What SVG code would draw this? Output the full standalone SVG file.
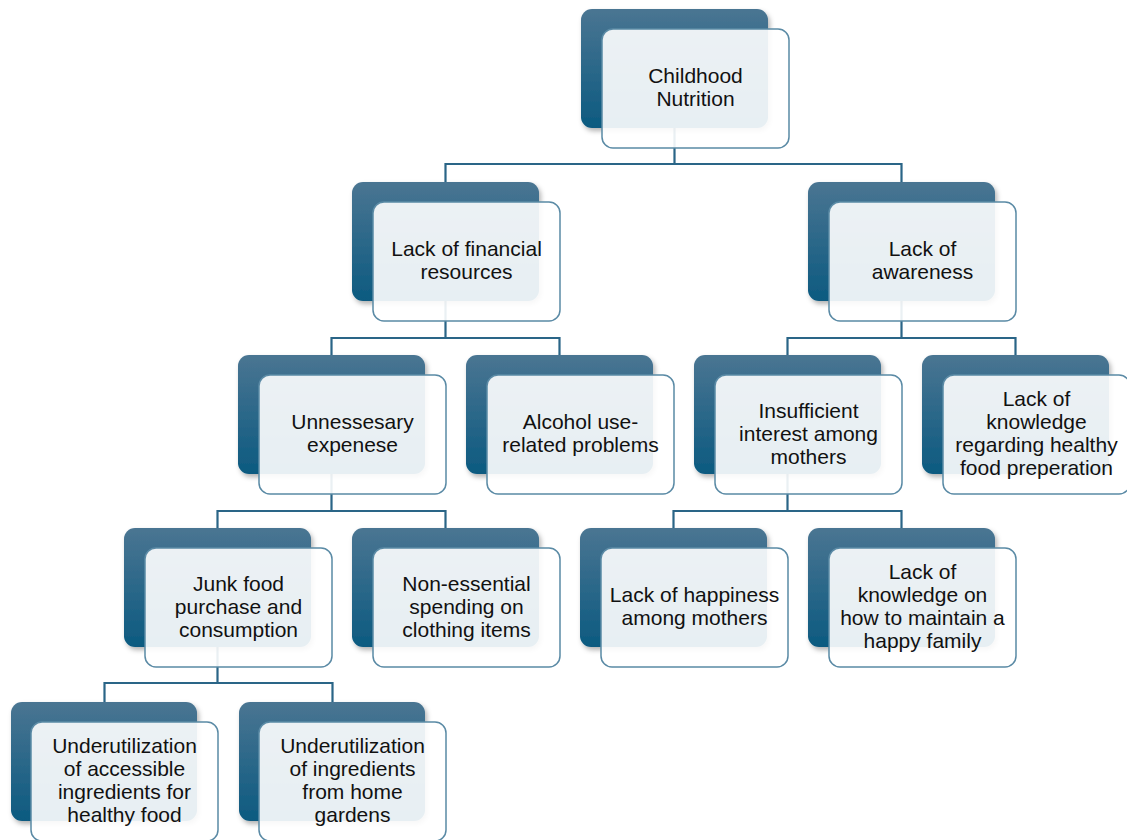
<svg xmlns="http://www.w3.org/2000/svg" width="1127" height="840" viewBox="0 0 1127 840">
<defs>
<linearGradient id="dg" x1="0" y1="0" x2="0" y2="1">
<stop offset="0" stop-color="#4a7592"/>
<stop offset="1" stop-color="#0c5a80"/>
</linearGradient>
<filter id="sh" x="-10%" y="-10%" width="125%" height="130%">
<feDropShadow dx="2" dy="3" stdDeviation="2.5" flood-color="#000" flood-opacity="0.3"/>
</filter>
<style>
.dk{fill:url(#dg);filter:url(#sh)}
.lt{fill:#fff;fill-opacity:0.9;stroke:#5a8aa5;stroke-width:1.5}
.tx{font-family:"Liberation Sans",Arial,sans-serif;font-size:21px;fill:#111;text-anchor:middle}
.cn{fill:none;stroke:#2a6587;stroke-width:2.2}
</style>
</defs>
<rect width="1127" height="840" fill="#fff"/>
<g id="connectors">
<path class="cn" d="M674.5,128V164M445.5,182V164H901.5V182"/>
<path class="cn" d="M445.5,301V338M331.5,355V338H559.5V355"/>
<path class="cn" d="M901.5,301V338M787.5,355V338H1015.5V355"/>
<path class="cn" d="M331.5,474V511M217.5,528V511H445.5V528"/>
<path class="cn" d="M787.5,474V511M673.5,528V511H901.5V528"/>
<path class="cn" d="M217.5,647V683M104.5,702V683H332.5V702"/>
</g>
<g id="n0">
<rect class="dk" x="581" y="9" width="187" height="119" rx="11"/>
<rect class="lt" x="602" y="29" width="187" height="119" rx="11"/>
<text class="tx" x="695.5"><tspan y="82.5" x="695.5">Childhood</tspan><tspan y="105.5" x="695.5">Nutrition</tspan></text>
</g>
<g id="n1">
<rect class="dk" x="352" y="182" width="187" height="119" rx="11"/>
<rect class="lt" x="373" y="202" width="187" height="119" rx="11"/>
<text class="tx"><tspan y="255.5" x="466.5">Lack of financial</tspan><tspan y="278.5" x="466.5">resources</tspan></text>
</g>
<g id="n2">
<rect class="dk" x="808" y="182" width="187" height="119" rx="11"/>
<rect class="lt" x="829" y="202" width="187" height="119" rx="11"/>
<text class="tx"><tspan y="255.5" x="922.5">Lack of</tspan><tspan y="278.5" x="922.5">awareness</tspan></text>
</g>
<g id="n3">
<rect class="dk" x="238" y="355" width="187" height="119" rx="11"/>
<rect class="lt" x="259" y="375" width="187" height="119" rx="11"/>
<text class="tx"><tspan y="428.5" x="352.5">Unnessesary</tspan><tspan y="451.5" x="352.5">expenese</tspan></text>
</g>
<g id="n4">
<rect class="dk" x="466" y="355" width="187" height="119" rx="11"/>
<rect class="lt" x="487" y="375" width="187" height="119" rx="11"/>
<text class="tx"><tspan y="428.5" x="580.5">Alcohol use-</tspan><tspan y="451.5" x="580.5">related problems</tspan></text>
</g>
<g id="n5">
<rect class="dk" x="694" y="355" width="187" height="119" rx="11"/>
<rect class="lt" x="715" y="375" width="187" height="119" rx="11"/>
<text class="tx"><tspan y="417.5" x="808.5">Insufficient</tspan><tspan y="440.5" x="808.5">interest among</tspan><tspan y="463.5" x="808.5">mothers</tspan></text>
</g>
<g id="n6">
<rect class="dk" x="922" y="355" width="187" height="119" rx="11"/>
<rect class="lt" x="943" y="375" width="187" height="119" rx="11"/>
<text class="tx"><tspan y="406" x="1036.5">Lack of</tspan><tspan y="429" x="1036.5">knowledge</tspan><tspan y="452" x="1036.5">regarding healthy</tspan><tspan y="475" x="1036.5">food preperation</tspan></text>
</g>
<g id="n7">
<rect class="dk" x="124" y="528" width="187" height="119" rx="11"/>
<rect class="lt" x="145" y="548" width="187" height="119" rx="11"/>
<text class="tx"><tspan y="590.5" x="238.5">Junk food</tspan><tspan y="613.5" x="238.5">purchase and</tspan><tspan y="636.5" x="238.5">consumption</tspan></text>
</g>
<g id="n8">
<rect class="dk" x="352" y="528" width="187" height="119" rx="11"/>
<rect class="lt" x="373" y="548" width="187" height="119" rx="11"/>
<text class="tx"><tspan y="590.5" x="466.5">Non-essential</tspan><tspan y="613.5" x="466.5">spending on</tspan><tspan y="636.5" x="466.5">clothing items</tspan></text>
</g>
<g id="n9">
<rect class="dk" x="580" y="528" width="187" height="119" rx="11"/>
<rect class="lt" x="601" y="548" width="187" height="119" rx="11"/>
<text class="tx"><tspan y="601.5" x="694.5">Lack of happiness</tspan><tspan y="624.5" x="694.5">among mothers</tspan></text>
</g>
<g id="n10">
<rect class="dk" x="808" y="528" width="187" height="119" rx="11"/>
<rect class="lt" x="829" y="548" width="187" height="119" rx="11"/>
<text class="tx"><tspan y="579" x="922.5">Lack of</tspan><tspan y="602" x="922.5">knowledge on</tspan><tspan y="625" x="922.5">how to maintain a</tspan><tspan y="648" x="922.5">happy family</tspan></text>
</g>
<g id="n11">
<rect class="dk" x="11" y="702" width="186" height="119" rx="11"/>
<rect class="lt" x="31" y="722" width="187" height="119" rx="11"/>
<text class="tx"><tspan y="753" x="124.5">Underutilization</tspan><tspan y="776" x="124.5">of accessible</tspan><tspan y="799" x="124.5">ingredients for</tspan><tspan y="822" x="124.5">healthy food</tspan></text>
</g>
<g id="n12">
<rect class="dk" x="239" y="702" width="186" height="119" rx="11"/>
<rect class="lt" x="259" y="722" width="187" height="119" rx="11"/>
<text class="tx"><tspan y="753" x="352.5">Underutilization</tspan><tspan y="776" x="352.5">of ingredients</tspan><tspan y="799" x="352.5">from home</tspan><tspan y="822" x="352.5">gardens</tspan></text>
</g>
</svg>
